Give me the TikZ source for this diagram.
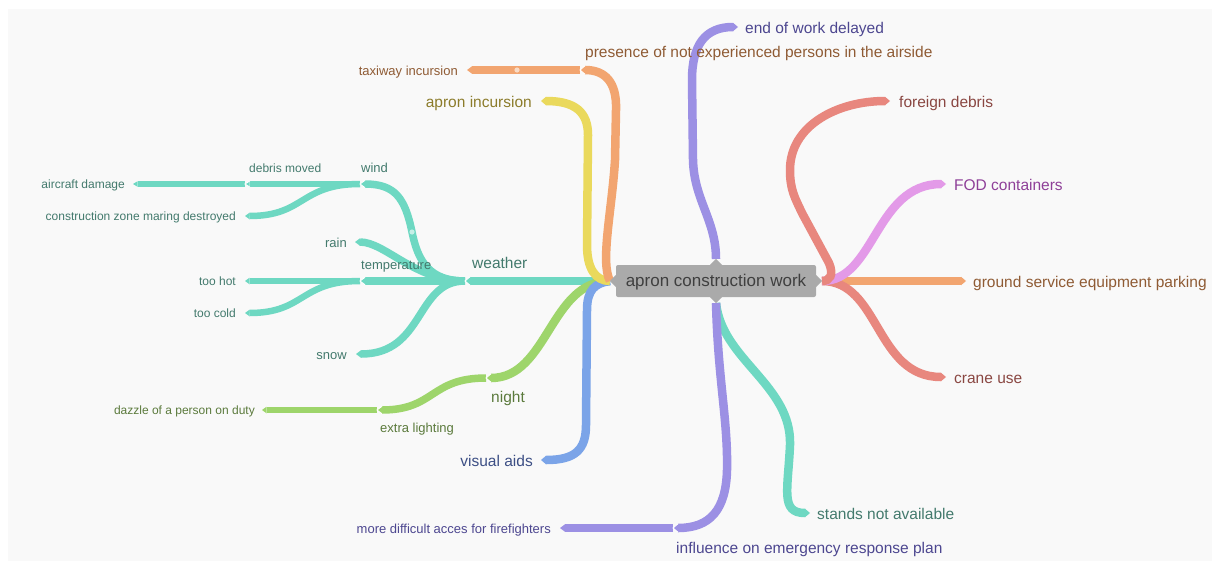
\documentclass[tikz,border=0pt]{standalone}
\usepackage{fontspec}
\setmainfont{Liberation Sans}
\usetikzlibrary{arrows.meta}
\definecolor{bgc}{HTML}{F9F9F9}
\definecolor{tealc}{HTML}{6ED8C2}
\definecolor{tealT}{HTML}{437A6D}
\definecolor{grn}{HTML}{9ED56B}
\definecolor{grnT}{HTML}{5B7A3C}
\definecolor{blu}{HTML}{7BA4E8}
\definecolor{bluT}{HTML}{3D4F85}
\definecolor{yel}{HTML}{EAD95C}
\definecolor{yelT}{HTML}{8C7C2B}
\definecolor{org}{HTML}{F2A570}
\definecolor{orgT}{HTML}{8F5B34}
\definecolor{pur}{HTML}{9C90E4}
\definecolor{purT}{HTML}{4D4790}
\definecolor{redc}{HTML}{E8877E}
\definecolor{redT}{HTML}{8A4742}
\definecolor{pnk}{HTML}{E39AE8}
\definecolor{pnkT}{HTML}{8E3F98}
\definecolor{rootc}{HTML}{AAAAAA}
\definecolor{rootT}{HTML}{3F3F3F}
\begin{document}
\begin{tikzpicture}[x=1pt,y=-1pt,
  da/.style={line width=8.5pt,-{Triangle[length=5pt,width=8.5pt,line width=0pt]}},
  db/.style={line width=7.5pt,-{Triangle[length=5pt,width=7.5pt,line width=0pt]}},
  dc/.style={line width=6.5pt,-{Triangle[length=4.5pt,width=6.5pt,line width=0pt]}},
  dd/.style={line width=5.5pt,-{Triangle[length=4.5pt,width=5.5pt,line width=0pt]}},
  chev/.style={draw=white,line width=0.9pt},
  fa/.style={inner sep=0pt,yshift=-2.5pt,font=\fontsize{15.5}{18}\selectfont,text height=11.2pt,text depth=3.3pt},
  fb/.style={inner sep=0pt,yshift=-2pt,font=\fontsize{13}{15}\selectfont,text height=9.4pt,text depth=2.7pt},
  fc/.style={inner sep=0pt,yshift=-1.5pt,font=\fontsize{12}{14}\selectfont,text height=8.6pt,text depth=2.5pt},
  rootbox/.style={fill=rootc,rounded corners=2pt,minimum width=200pt,minimum height=32pt,inner sep=0pt,
    text=rootT,font=\fontsize{17}{20}\selectfont,text height=12.3pt,text depth=0.5pt}
]
\useasboundingbox (0,0) rectangle (1217,565);
\fill[white] (0,0) rectangle (1217,565);
\fill[bgc] (8,9) rectangle (1212,561);

% anchor points
\coordinate (rl) at (610,281);
\coordinate (rr) at (822,281);
\coordinate (rt) at (716,259);
\coordinate (rb) at (716,303);
\coordinate (we) at (465,281);
\coordinate (wi) at (360,184);
\coordinate (dm) at (245,184);
\coordinate (ad) at (133,184);
\coordinate (cz) at (245,216);
\coordinate (ra) at (355,242);
\coordinate (te) at (360,281);
\coordinate (th) at (245,281);
\coordinate (tc) at (245,313);
\coordinate (sn) at (356,354);
\coordinate (ni) at (486,378);
\coordinate (el) at (377,410);
\coordinate (dz) at (262,410);
\coordinate (va) at (541,460);
\coordinate (ai) at (541,101);
\coordinate (pr) at (580,70);
\coordinate (tx) at (467,70);
\coordinate (ew) at (738,27);
\coordinate (ie) at (673,528);
\coordinate (md) at (560,528);
\coordinate (sa) at (810,513);
\coordinate (fd) at (890,101);
\coordinate (fo) at (946,184);
\coordinate (gs) at (966,281);
\coordinate (cu) at (946,377);

% depth 4
\draw[dd,tealc] (dm) -- (ad);
% depth 3
\draw[dc,tealc] (wi) -- (dm);
\draw[dc,tealc] (wi) .. controls (300,184) and (305,216) .. (cz);
\draw[dc,tealc] (te) -- (th);
\draw[dc,tealc] (te) .. controls (300,281) and (305,313) .. (tc);
\draw[dc,grn] (el) -- (dz);
% depth 2
\draw[db,tealc] (we) .. controls (430,281) and (418,262) .. (412,232) .. controls (405,198) and (395,184) .. (wi);
\draw[db,tealc] (we) .. controls (415,281) and (385,242) .. (ra);
\draw[db,tealc] (we) -- (te);
\draw[db,tealc] (we) .. controls (415,281) and (425,354) .. (sn);
\draw[db,grn] (ni) .. controls (430,378) and (435,410) .. (el);
\draw[db,org] (pr) -- (tx);
\draw[db,pur] (ie) -- (md);
% depth 1, left
\draw[da,tealc] (rl) -- (we);
\draw[da,grn] (rl) .. controls (550,281) and (548,378) .. (ni);
\draw[da,blu] (rl) .. controls (595,283) and (587,290) .. (587,310) -- (586,425) .. controls (586,450) and (575,460) .. (va);
\draw[da,yel] (rl) .. controls (595,281) and (587,268) .. (587,245) -- (588,135) .. controls (588,112) and (575,101) .. (ai);
\draw[da,org] (rl) .. controls (600,262) and (612,210) .. (615,160) -- (616,110) .. controls (617,82) and (605,70) .. (pr);
% depth 1, vertical
\draw[da,tealc] (rb) .. controls (722,360) and (792,385) .. (790,445) .. controls (788,490) and (780,513) .. (sa);
\draw[da,pur] (rb) .. controls (718,380) and (728,420) .. (727,470) .. controls (726,510) and (710,528) .. (ie);
\draw[da,pur] (rt) .. controls (716,220) and (694,200) .. (693,160) -- (692,80) .. controls (692,45) and (705,27) .. (ew);
% depth 1, right
\draw[da,org] (rr) -- (gs);
\draw[da,redc] (rr) .. controls (880,281) and (875,377) .. (cu);
\draw[da,pnk] (rr) .. controls (875,281) and (875,184) .. (fo);
\draw[da,redc] (rr) .. controls (830,281) and (834,275) .. (829,263) -- (802,213) .. controls (795,198) and (790,190) .. (790,170) .. controls (790,125) and (838,101) .. (fd);

% junction notches
\foreach \j/\h in {we/4.25,ni/4.25,pr/4.25,ie/4.25,wi/3.75,te/3.75,el/3.75,dm/3.25}{
  \draw[chev] ([shift={(5,-\h)}]\j) -- (\j) -- ([shift={(5,\h)}]\j);
}
% handles
\fill[white,opacity=.6] (412,232) circle (2.6);
\fill[white,opacity=.6] (517,70) circle (2.6);

% root
\node[rootbox] (root) at (716,281) {apron construction work};
\fill[rootc] ([yshift=-6pt]root.west) -- (rl) -- ([yshift=6pt]root.west) -- cycle;
\fill[rootc] ([yshift=-6pt]root.east) -- (rr) -- ([yshift=6pt]root.east) -- cycle;
\fill[rootc] ([xshift=-6pt]root.north) -- (rt) -- ([xshift=6pt]root.north) -- cycle;
\fill[rootc] ([xshift=-6pt]root.south) -- (rb) -- ([xshift=6pt]root.south) -- cycle;

% labels
\node[fa,text=tealT,anchor=west] (lwe) at (472,262) {weather};
\node[fb,text=tealT,anchor=west] (lwi) at (361,167) {wind};
\node[fc,text=tealT,anchor=west] (ldm) at (249,168) {debris moved};
\node[fc,text=tealT,anchor=east] (lad) at (125,184) {aircraft damage};
\node[fc,text=tealT,anchor=east] (lcz) at (236,216) {construction zone maring destroyed};
\node[fb,text=tealT,anchor=east] (lra) at (347,242) {rain};
\node[fb,text=tealT,anchor=west] (lte) at (361,264) {temperature};
\node[fc,text=tealT,anchor=east] (lth) at (236,281) {too hot};
\node[fc,text=tealT,anchor=east] (ltc) at (236,313) {too cold};
\node[fb,text=tealT,anchor=east] (lsn) at (347,354) {snow};
\node[fa,text=grnT,anchor=west] (lni) at (491,396) {night};
\node[fb,text=grnT,anchor=west] (lel) at (380,427) {extra lighting};
\node[fc,text=grnT,anchor=east] (ldz) at (255,410) {dazzle of a person on duty};
\node[fa,text=bluT,anchor=east] (lva) at (533,460) {visual aids};
\node[fa,text=yelT,anchor=east] (lai) at (532,101) {apron incursion};
\node[fa,text=orgT,anchor=west] (lpr) at (585,51) {presence of not experienced persons in the airside};
\node[fb,text=orgT,anchor=east] (ltx) at (458,70) {taxiway incursion};
\node[fa,text=purT,anchor=west] (lew) at (745,27) {end of work delayed};
\node[fa,text=purT,anchor=west] (lie) at (676,547) {influence on emergency response plan};
\node[fb,text=purT,anchor=east] (lmd) at (551,528) {more difficult acces for firefighters};
\node[fa,text=tealT,anchor=west] (lsa) at (817,513) {stands not available};
\node[fa,text=redT,anchor=west] (lfd) at (899,101) {foreign debris};
\node[fa,text=pnkT,anchor=west] (lfo) at (954,184) {FOD containers};
\node[fa,text=orgT,anchor=west] (lgs) at (973,281) {ground service equipment parking};
\node[fa,text=redT,anchor=west] (lcu) at (954,377) {crane use};
\end{tikzpicture}
\end{document}
